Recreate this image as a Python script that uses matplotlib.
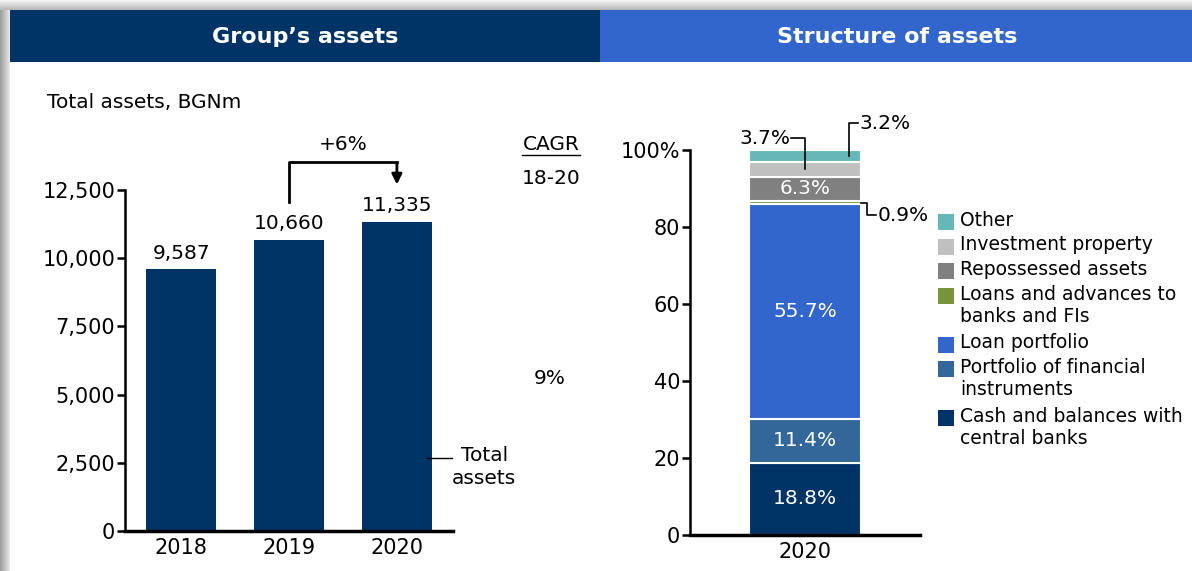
import numpy as np
import matplotlib.pyplot as plt
from matplotlib.patches import Rectangle
from matplotlib.ticker import FuncFormatter

# left chart data
years = ["2018", "2019", "2020"]
total_assets = [9587, 10660, 11335]
left_ticks = [0, 2500, 5000, 7500, 10000, 12500]
growth_label = "+6%"
cagr_label = "9%"

# right chart data (bottom -> top)
structure_year = "2020"
categories = ["Cash and balances with\ncentral banks",
              "Portfolio of financial\ninstruments",
              "Loan portfolio",
              "Loans and advances to\nbanks and FIs",
              "Repossessed assets",
              "Investment property",
              "Other"]
shares = [18.8, 11.4, 55.7, 0.9, 6.3, 3.7, 3.2]
colors = ["#003366", "#336699", "#3366CC", "#77933C", "#808080", "#C0C0C0", "#66B8B8"]
right_ticks = [0, 20, 40, 60, 80, 100]

FS = 14.5      # general text
TFS = 15       # tick labels

W, H = 1192, 571
fig = plt.figure(figsize=(W / 100, H / 100), dpi=100)

# background layer in pixel coordinates
bg = fig.add_axes([0, 0, 1, 1])
bg.axis("off")
top_grad = np.repeat(np.linspace(0.95, 0.72, 10)[:, None], 10, axis=1)
left_grad = np.repeat(np.linspace(0.62, 0.9, 10)[None, :], 10, axis=0)
bg.imshow(top_grad, cmap="gray", vmin=0, vmax=1, extent=(0, W, 10, 0), aspect="auto")
bg.imshow(left_grad, cmap="gray", vmin=0, vmax=1, extent=(0, 10, H, 10), aspect="auto")
bg.add_patch(Rectangle((10, 10), 590, 52, color="#003366", lw=0))
bg.add_patch(Rectangle((600, 10), 592, 52, color="#3366CC", lw=0))
bg.text(305, 37, "Group’s assets", color="white", fontsize=16, fontweight="bold", ha="center", va="center")
bg.text(897, 37, "Structure of assets", color="white", fontsize=16, fontweight="bold", ha="center", va="center")
bg.set_xlim(0, W)
bg.set_ylim(H, 0)

bg.text(47, 103, "Total assets, BGNm", fontsize=FS, ha="left", va="center")
bg.text(551, 145, "CAGR", fontsize=FS, ha="center", va="center")
bg.plot([522, 580], [155, 155], color="black", lw=1)
bg.text(551, 178, "18-20", fontsize=FS, ha="center", va="center")
bg.text(550, 378, cagr_label, fontsize=FS, ha="center", va="center")

# ---- left chart ----
axL = fig.add_axes([125 / W, 1 - 531 / H, 328 / W, 341 / H])
axL.patch.set_alpha(0)
x = np.arange(len(years))
bars = axL.bar(x, total_assets, width=0.65, color="#003366")
axL.bar_label(bars, labels=[f"{v:,}" for v in total_assets], padding=5, fontsize=FS)
axL.set_xlim(-0.52, 2.52)
axL.set_ylim(0, 12500)
axL.set_yticks(left_ticks)
axL.yaxis.set_major_formatter(FuncFormatter(lambda v, p: f"{int(v):,}"))
axL.set_xticks(x)
axL.set_xticklabels(years)
for s in ["top", "right"]:
    axL.spines[s].set_visible(False)
axL.spines["left"].set_linewidth(1.8)
axL.spines["bottom"].set_linewidth(2.5)
axL.tick_params(axis="y", length=6, width=1.8, labelsize=TFS, pad=1)
axL.tick_params(axis="x", length=0, labelsize=TFS, pad=5)

# +6% bracket
axL.plot([1, 1, 2], [12060, 13530, 13530], color="black", lw=2, clip_on=False)
axL.annotate("", xy=(2, 12600), xytext=(2, 13560),
             arrowprops=dict(arrowstyle="-|>", color="black", lw=2, mutation_scale=15),
             annotation_clip=False)
axL.text(1.5, 14150, growth_label, fontsize=FS, ha="center", va="center")

# total assets pointer
axL.plot([2.28, 2.51], [2680, 2680], color="black", lw=1, clip_on=False)
axL.text(2.81, 2350, "Total\nassets", fontsize=FS, ha="center", va="center", linespacing=1.25)

# ---- right chart ----
axR = fig.add_axes([690 / W, 1 - 535 / H, 230 / W, 385 / H])
axR.patch.set_alpha(0)
bottoms = np.concatenate([[0], np.cumsum(shares)[:-1]])
for val, b, c in zip(shares, bottoms, colors):
    axR.bar(0, val, bottom=b, width=0.49, color=c, edgecolor="white", lw=1.5)
    if val > 5:
        axR.text(0, b + val / 2, f"{val}%", color="white", fontsize=FS, ha="center", va="center")
axR.set_xlim(-0.5, 0.5)
axR.set_ylim(0, 100)
axR.set_yticks(right_ticks)
axR.set_yticklabels([str(t) for t in right_ticks[:-1]] + ["100%"])
axR.set_xticks([0])
axR.set_xticklabels([structure_year])
for s in ["top", "right"]:
    axR.spines[s].set_visible(False)
axR.spines["left"].set_linewidth(1.8)
axR.spines["bottom"].set_linewidth(2.5)
axR.tick_params(axis="y", length=6, width=1.8, labelsize=TFS, pad=1)
axR.tick_params(axis="x", length=0, labelsize=TFS, pad=5)

# callouts for the small segments
mid = bottoms + np.array(shares) / 2
axR.plot([0, 0, -0.06], [mid[5], 103.1, 103.1], color="black", lw=1.2, clip_on=False)
axR.text(-0.065, 103.1, f"{shares[5]}%", fontsize=FS, ha="right", va="center")
axR.plot([0.19, 0.19, 0.23], [mid[6], 107, 107], color="black", lw=1.2, clip_on=False)
axR.text(0.235, 107, f"{shares[6]}%", fontsize=FS, ha="left", va="center")
axR.plot([0.245, 0.27, 0.27, 0.31], [mid[3], mid[3], 83, 83], color="black", lw=1.2, clip_on=False)
axR.text(0.315, 83, f"{shares[3]}%", fontsize=FS, ha="left", va="center")

# legend (top -> bottom)
y = 222
for name, c in zip(categories[::-1], colors[::-1]):
    bg.add_patch(Rectangle((938, y - 8), 16, 16, color=c, lw=0))
    bg.text(960, y - 11, name, fontsize=13.5, ha="left", va="top", linespacing=1.2)
    y += 24.5 * (name.count("\n") + 1)

fig.savefig("out.png", dpi=100)
